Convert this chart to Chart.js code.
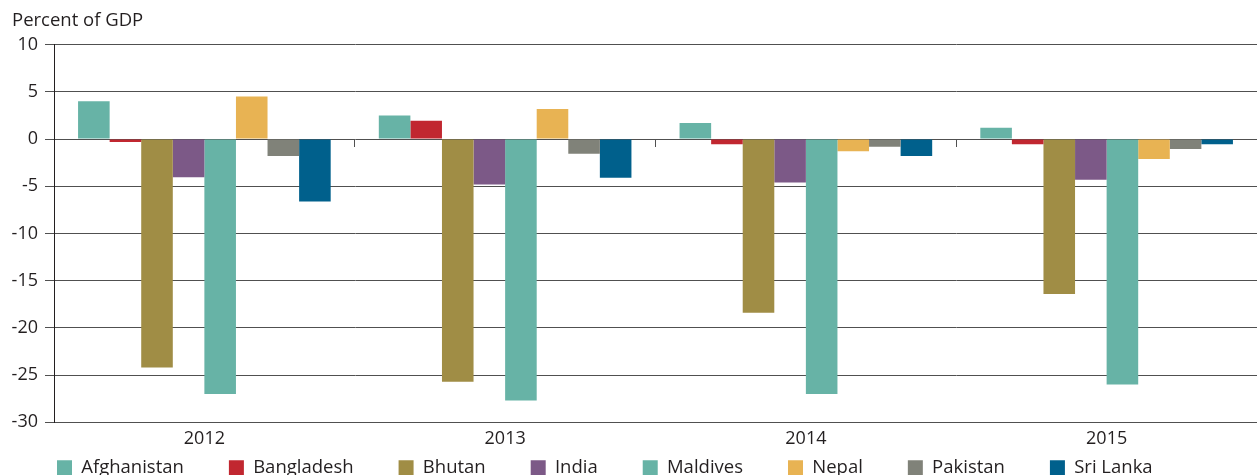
<!DOCTYPE html>
<html>
<head>
<meta charset="utf-8">
<script src="https://cdn.jsdelivr.net/npm/chart.js@4/dist/chart.umd.min.js"></script>
<style>
  html, body { margin: 0; padding: 0; background: #ffffff; overflow: hidden; }
  #wrap { position: relative; width: 1257px; height: 487px; }
</style>
</head>
<body>
<div id="wrap"><canvas id="c"></canvas></div>
<script>
const years = ['2012', '2013', '2014', '2015'];
const yTicks = [10, 5, 0, -5, -10, -15, -20, -25, -30];
const afghanistan = [4.0, 2.5, 1.7, 1.2];
const bangladesh  = [-0.3, 1.95, -0.55, -0.55];
const bhutan      = [-24.2, -25.7, -18.4, -16.4];
const india       = [-4.05, -4.8, -4.6, -4.3];
const maldives    = [-27.0, -27.7, -27.0, -26.0];
const nepal       = [4.5, 3.2, -1.3, -2.1];
const pakistan    = [-1.8, -1.55, -0.8, -1.05];
const sriLanka    = [-6.6, -4.1, -1.8, -0.55];
const seriesNames = ['Afghanistan', 'Bangladesh', 'Bhutan', 'India', 'Maldives', 'Nepal', 'Pakistan', 'Sri Lanka'];
const seriesValues = [afghanistan, bangladesh, bhutan, india, maldives, nepal, pakistan, sriLanka];
const seriesColors = ['#67b3a6', '#c12730', '#a08d45', '#7c5987', '#67b3a6', '#e8b353', '#808279', '#00608c'];

Chart.defaults.font.family = "'Open Sans', 'Noto Sans', sans-serif";
Chart.defaults.color = '#231f20';

const textColor = '#231f20';
const gridColor = '#505050';

new Chart(document.getElementById('c'), {
  type: 'bar',
  data: {
    labels: years,
    datasets: seriesNames.map((name, i) => ({
      label: name,
      data: seriesValues[i],
      backgroundColor: seriesColors[i],
      borderWidth: 0,
      categoryPercentage: 0.84,
      barPercentage: 1.0
    }))
  },
  options: {
    responsive: true,
    maintainAspectRatio: false,
    animation: false,
    layout: { padding: { left: 12, right: 0, top: 0, bottom: 0 } },
    plugins: {
      tooltip: { enabled: false },
      title: {
        display: true,
        text: 'Percent of GDP',
        align: 'start',
        color: textColor,
        font: { size: 18.5, weight: 'normal' },
        padding: { top: 10, bottom: 12.5 }
      },
      legend: {
        position: 'bottom',
        align: 'start',
        title: { display: true, text: '', font: { size: 10, lineHeight: 1 }, padding: { top: -51, bottom: 0 } },
        labels: {
          boxWidth: 15,
          boxHeight: 15,
          padding: 45,
          color: textColor,
          font: { size: 18.5 }
        }
      }
    },
    scales: {
      x: {
        type: 'category',
        position: 'bottom',
        offset: true,
        grid: { display: false, offset: true, drawTicks: false },
        border: { display: true, color: gridColor, width: 1 },
        ticks: { color: textColor, font: { size: 18 }, padding: 5.3, maxRotation: 0 }
      },
      x2: {
        type: 'category',
        labels: years,
        position: { y: 0 },
        offset: true,
        grid: { display: true, offset: true, drawOnChartArea: false, drawTicks: true, tickLength: 8, color: gridColor, lineWidth: 1 },
        border: { display: false },
        ticks: { display: false }
      },
      y: {
        min: -30,
        max: 10,
        afterBuildTicks: (scale) => { scale.ticks = yTicks.map(v => ({ value: v })); },
        afterFit: (scale) => { scale.width = 42; },
        grid: { color: gridColor, lineWidth: 1, tickLength: 9, drawTicks: true },
        border: { display: true, color: '#231f20', width: 1 },
        ticks: { color: textColor, font: { size: 18 }, padding: 7 }
      }
    }
  }
});
</script>
</body>
</html>
